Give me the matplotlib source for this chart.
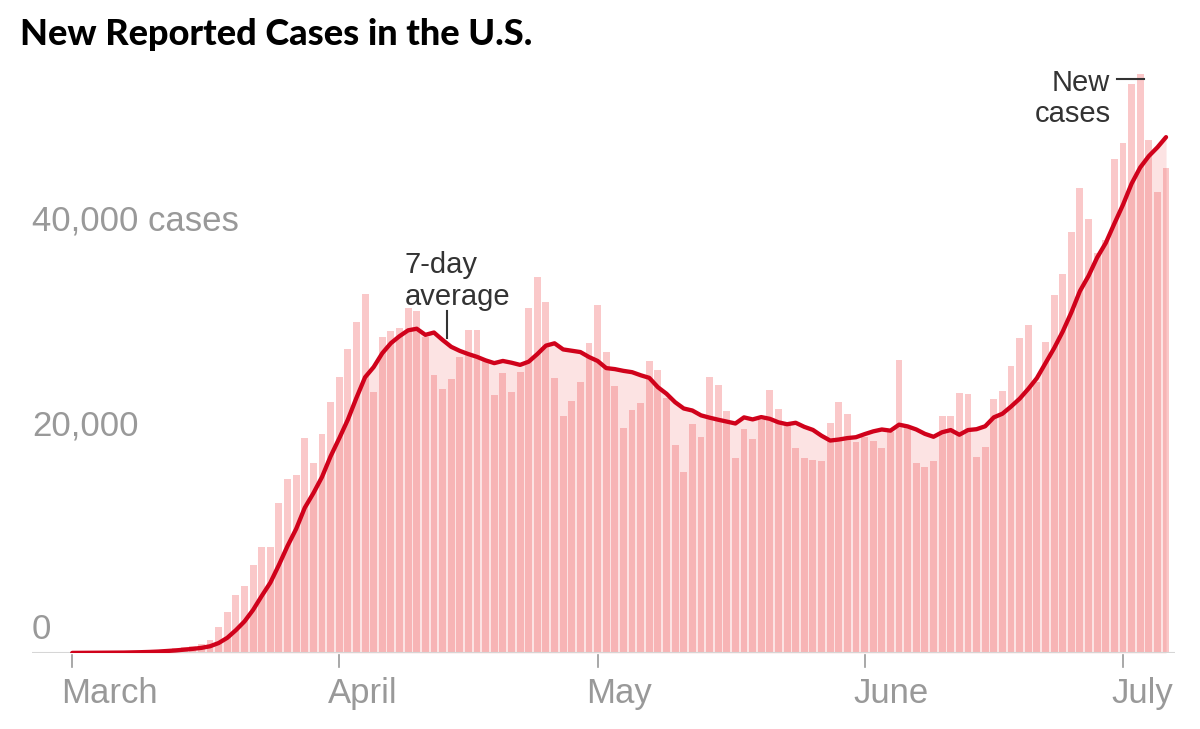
import numpy as np
import pandas as pd
import matplotlib
matplotlib.use("Agg")
from matplotlib import pyplot as plt
from matplotlib import font_manager

# daily new cases, March 1 .. July 6 (in cases)
new_cases = [
    10, 20, 30, 30, 50, 70, 90, 120, 170, 210,
    290, 420, 460, 600, 690, 860, 1300, 2500, 4000, 5700,
    6600, 8600, 10400, 10400, 14700, 17000, 17400, 21100, 18600, 21500,
    24600, 27000, 29800, 32400, 35200, 25600, 31000, 31500, 31800, 33800,
    33500, 31000, 27200, 25900, 26800, 29000, 31600, 31600, 28600, 25300,
    27400, 25600, 27500, 33800, 36800, 34400, 26900, 23200, 24700, 26600,
    30400, 34100, 29500, 26200, 22000, 23800, 24500, 28600, 27700, 25000,
    20400, 17700, 22400, 21200, 27000, 26300, 23700, 19100, 21900, 21000,
    22800, 25800, 23900, 22400, 20100, 19100, 18900, 18800, 22500, 24600,
    23400, 20700, 21200, 20800, 20100, 21700, 28700, 22200, 18600, 18200,
    18800, 23200, 23200, 25500, 25400, 19200, 20200, 24900, 25700, 28100,
    30900, 32100, 26600, 30500, 35100, 37100, 41200, 45600, 42500, 39200,
    40500, 48400, 50000, 55700, 56700, 50300, 45200, 47500,
]
month_names = ["March", "April", "May", "June", "July"]
month_starts = [0, 31, 61, 92, 122]   # day index of the 1st of each month
y_ticks = [0, 20000, 40000]
y_labels = ["0", "20,000", "40,000 cases"]

days = np.arange(len(new_cases))
avg = pd.Series(new_cases).rolling(7, min_periods=1).mean()

FONT = "Liberation Sans"
# heavy, slightly condensed headline; fall back if Lato isn't there
installed = {f.name for f in font_manager.fontManager.ttflist}
if "Lato" in installed:
    title_font, title_size, title_weight = "Lato", 26, "black"
else:
    title_font, title_size, title_weight = "Liberation Sans", 24.5, "bold"

fig = plt.figure(figsize=(12, 7.29), dpi=100)
ax = fig.add_axes([32 / 1200, 76 / 729, 1143 / 1200, 593 / 729])
ax.set_xlim(-4.67, 128.04)
ax.set_ylim(0, 58100)
ax.axis("off")

# shaded area under the average, then the daily bars, then the line
ax.fill_between(days, avg, color="#fce3e3", lw=0, zorder=1)
ax.bar(days, new_cases, width=0.8, color=(239 / 255, 78 / 255, 81 / 255),
       alpha=0.31, linewidth=0, zorder=2)
ax.plot(days, avg, color="#d0021b", lw=3.1, solid_capstyle="round",
        solid_joinstyle="round", zorder=4)

# baseline + month ticks
ax.axhline(0, color="#d6d6d6", lw=1.5, zorder=3)
xt = ax.get_xaxis_transform()
for m, name in zip(month_starts, month_names):
    ax.plot([m, m], [-0.003, -0.024], transform=xt, color="#9a9a9a", lw=1.2,
            clip_on=False)
    ax.text(m - 1.3, -0.0845, name, transform=xt, ha="left", va="baseline",
            fontsize=25, color="#999999", family=FONT)

# y labels sit above their (invisible) gridlines
for v, lab in zip(y_ticks, y_labels):
    ax.text(0, v + 1350, lab, transform=ax.get_yaxis_transform(), ha="left",
            va="baseline", fontsize=25, color="#999999", family=FONT)

# annotations
ax.text(38.6, 37200, "7-day", ha="left", va="baseline", fontsize=21,
        color="#333333", family=FONT)
ax.text(38.6, 34100, "average", ha="left", va="baseline", fontsize=21,
        color="#333333", family=FONT)
ax.plot([43.5, 43.5], [30900, 33500], color="#333333", lw=1.5)

ax.text(120.5, 55100, "New", ha="right", va="baseline", fontsize=21,
        color="#333333", family=FONT)
ax.text(120.6, 52000, "cases", ha="right", va="baseline", fontsize=21,
        color="#333333", family=FONT)
ax.plot([121.3, 124.4], [56200, 56200], color="#333333", lw=1.5, zorder=5)

fig.text(20 / 1200, 1 - 45 / 729, "New Reported Cases in the U.S.",
         ha="left", va="baseline", fontsize=title_size,
         fontweight=title_weight, color="#000000", family=title_font)

fig.savefig("out.png", dpi=100, facecolor="white")
